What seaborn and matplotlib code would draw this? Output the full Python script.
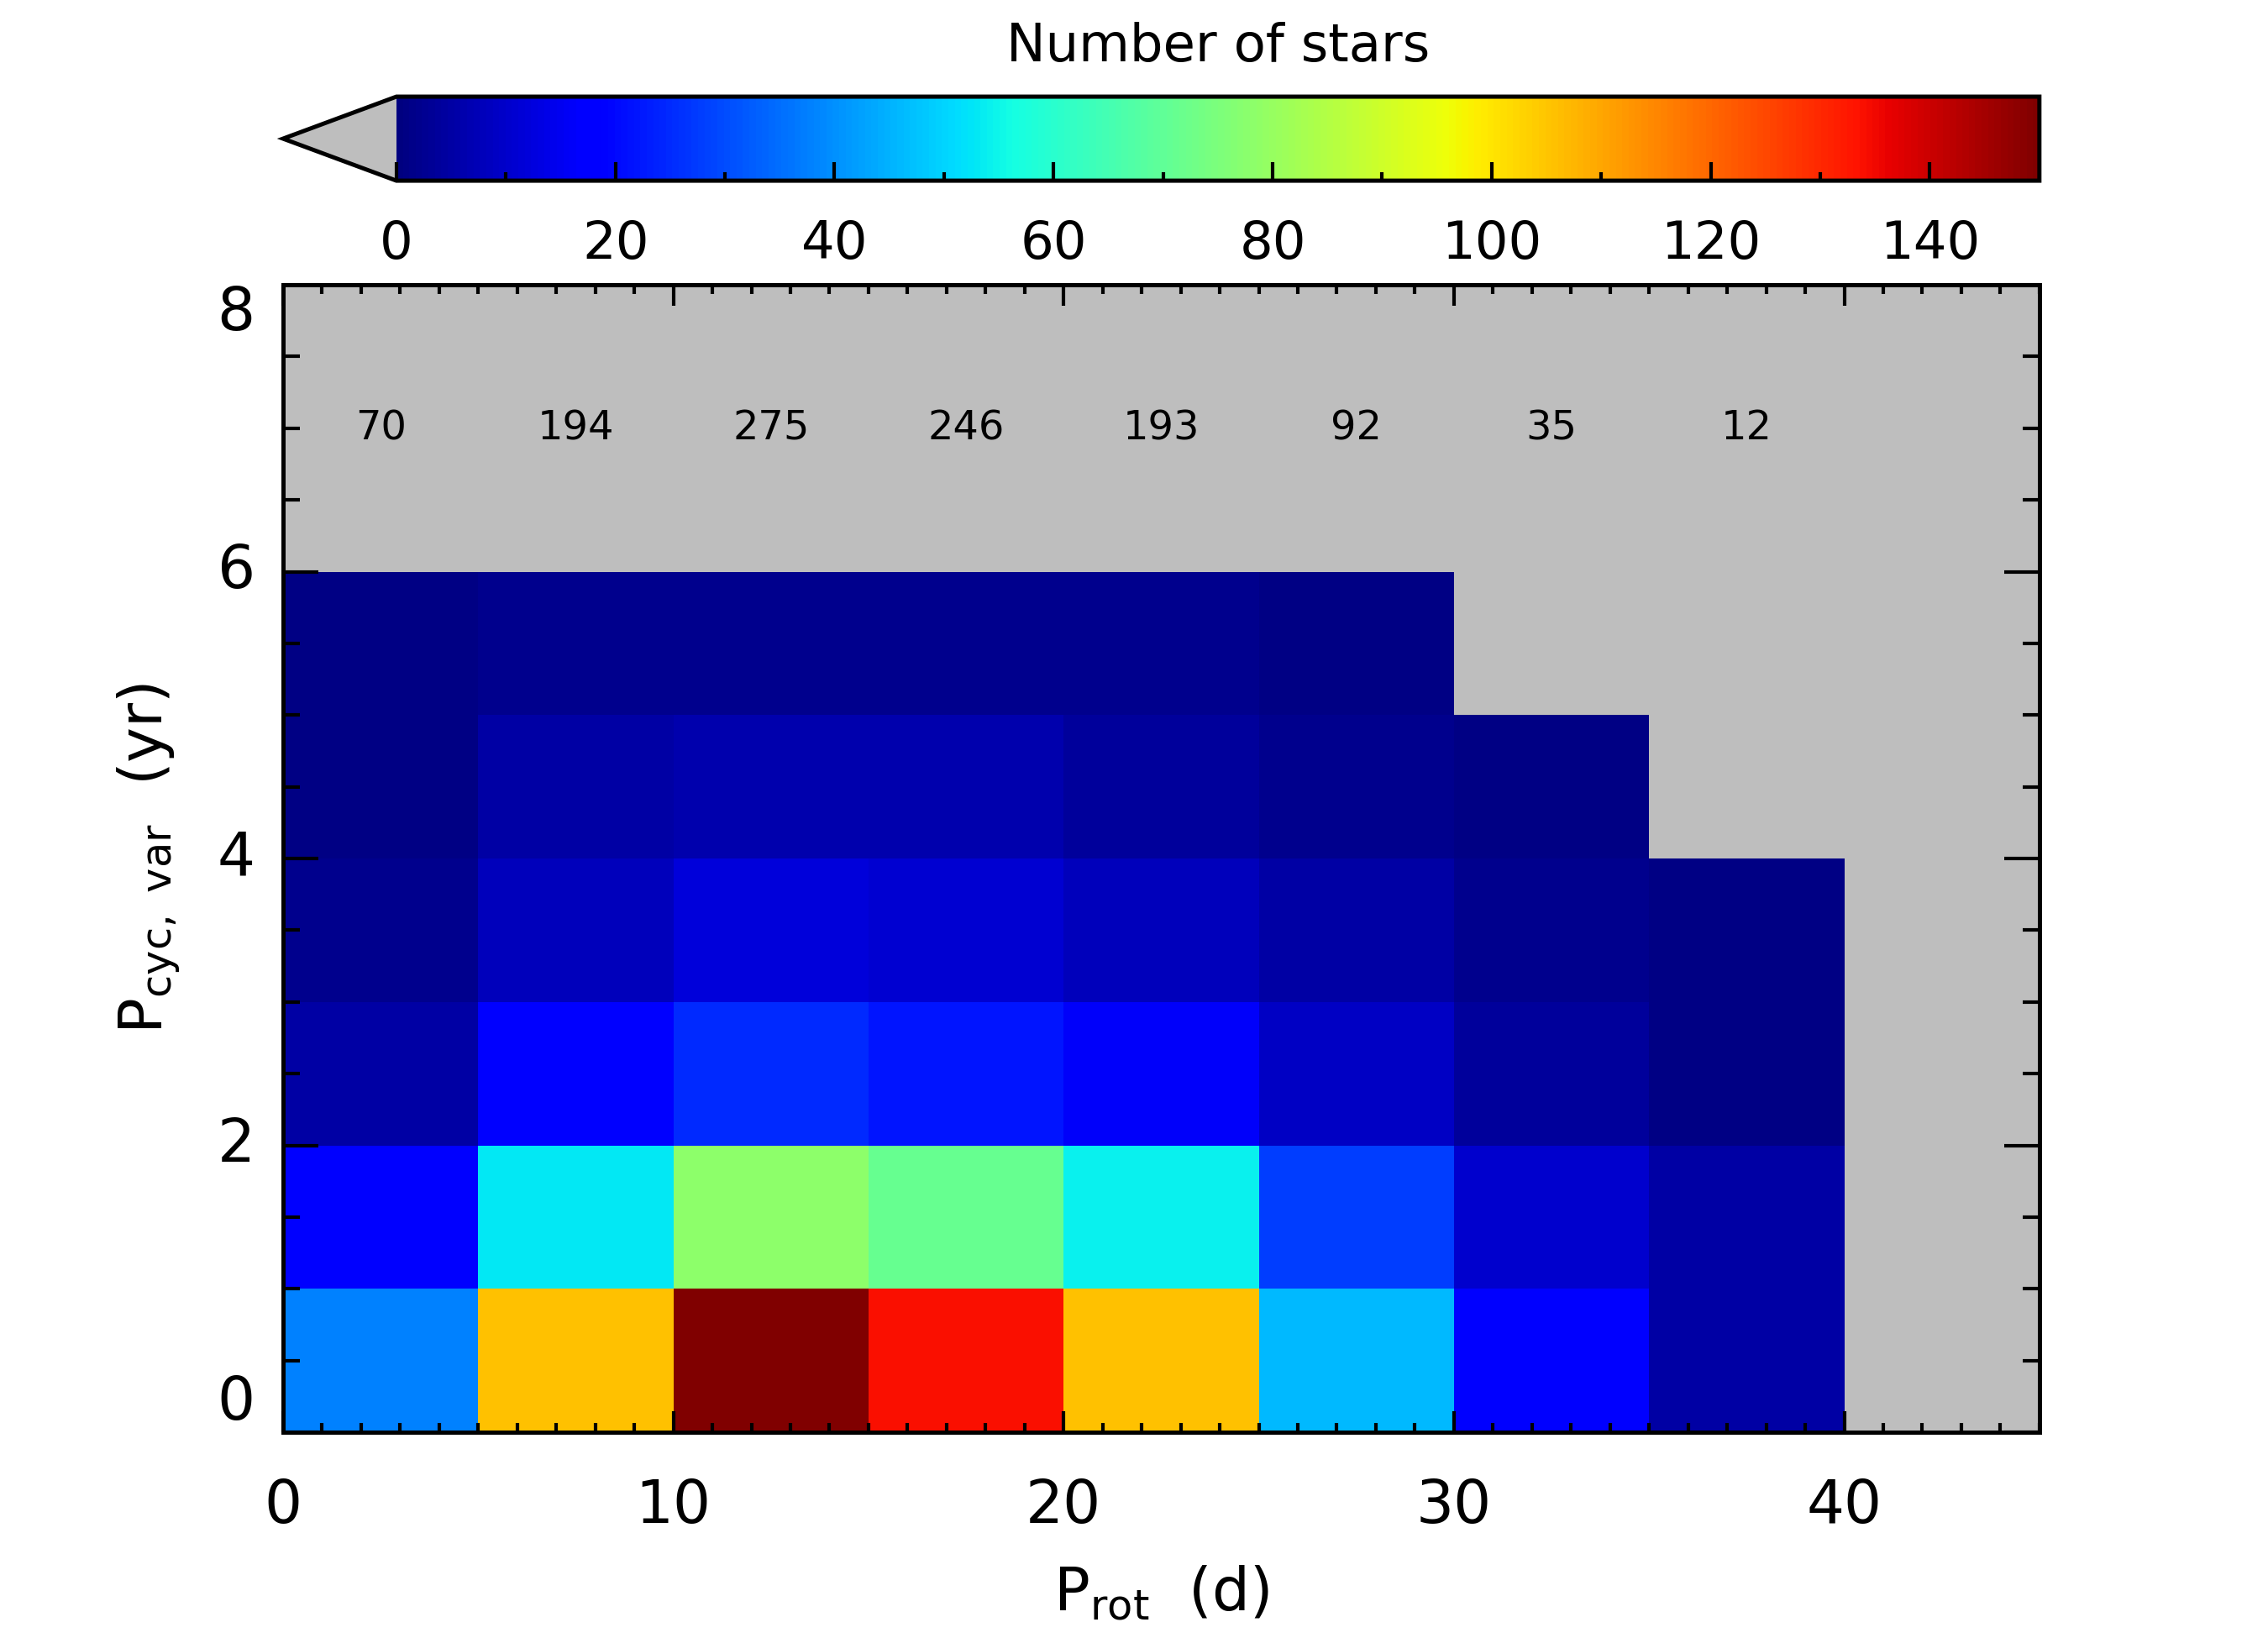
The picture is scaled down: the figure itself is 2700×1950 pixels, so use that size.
import numpy as np
import pandas as pd
import matplotlib
matplotlib.use("Agg")
import matplotlib.pyplot as plt
import seaborn as sns
from matplotlib.ticker import FixedLocator

# Przedziały: P_rot co 5 d, P_cyc co 1 rok (dolne krawędzie)
prot_bins = [0, 5, 10, 15, 20, 25, 30, 35, 40]
pcyc_bins = [0, 1, 2, 3, 4, 5, 6, 7]

# Liczba gwiazd w każdej komórce, wiersz = przedział P_cyc (od dołu)
n_pcyc_0 = [38, 106, 152, 134, 106, 46, 17, 5, 0]
n_pcyc_1 = [18, 53, 78, 71, 54, 28, 10, 5, 0]
n_pcyc_2 = [5, 17, 25, 22, 16, 9, 4, 1, 0]
n_pcyc_3 = [2, 8, 12, 11, 8, 5, 2, 1, 0]
n_pcyc_4 = [1, 5, 6, 6, 4, 2, 1, 0, 0]
n_pcyc_5 = [1, 2, 2, 2, 2, 1, 0, 0, 0]
n_pcyc_6 = [0, 0, 0, 0, 0, 0, 0, 0, 0]
n_pcyc_7 = [0, 0, 0, 0, 0, 0, 0, 0, 0]

# Sumy w kolumnach (napisy u góry)
col_totals = [70, 194, 275, 246, 193, 92, 35, 12]

counts = pd.DataFrame(
    [n_pcyc_0, n_pcyc_1, n_pcyc_2, n_pcyc_3, n_pcyc_4, n_pcyc_5, n_pcyc_6, n_pcyc_7],
    index=pcyc_bins, columns=prot_bins,
)

plt.rcParams['font.family'] = ['DejaVu Sans']
plt.rcParams['mathtext.default'] = 'regular'

gray = '#bebebe'
cmap = plt.get_cmap('jet').copy()
cmap.set_under(gray)

fig = plt.figure(figsize=(9, 6.5), dpi=300)
ax = fig.add_axes([0.1248, 0.1256, 0.7744, 0.7005])
cax = fig.add_axes([0.1248, 0.8897, 0.7744, 0.0513])
ax.set_facecolor(gray)

sns.heatmap(counts, mask=counts == 0, cmap=cmap, vmin=0, vmax=150, ax=ax, cbar_ax=cax,
            cbar_kws={'orientation': 'horizontal', 'extend': 'min', 'extendfrac': 0.069})

# Osie: komórka heatmapy = 5 d na x, 1 rok na y
ax.set_xlim(0, len(prot_bins))
ax.set_ylim(0, len(pcyc_bins))
for s in ax.spines.values():
    s.set_visible(True)
    s.set_linewidth(1.2)
    s.set_color('black')

xmaj = np.arange(0, len(prot_bins), 2)
ax.set_xticks(xmaj)
ax.set_xticklabels([prot_bins[i] for i in xmaj], rotation=0)
ax.set_xticks(np.arange(0, len(prot_bins) + 0.01, 0.2), minor=True)
ymaj = np.arange(0, len(pcyc_bins) + 1, 2)
ax.set_yticks(ymaj)
ax.set_yticklabels([str(v) for v in ymaj], rotation=0)
ax.set_yticks(np.arange(0, len(pcyc_bins) + 0.01, 0.5), minor=True)

ax.tick_params(which='both', direction='in', top=True, right=True, width=1.0, color='black')
ax.tick_params(axis='x', which='major', length=6, pad=13, labelsize=17)
ax.tick_params(axis='x', which='minor', length=2.7)
ax.tick_params(axis='y', which='major', length=10, pad=8, labelsize=17)
ax.tick_params(axis='y', which='minor', length=4.8)

# skrajne etykiety osi y przesunięte do środka (jak w IDL)
ylabs = ax.get_yticklabels()
ylabs[0].set_va('bottom')
ylabs[-1].set_va('top')

ax.set_xlabel('P$_{rot}$  (d)', fontsize=17, labelpad=8)
ax.set_ylabel('P$_{cyc,\\ var}$  (yr)', fontsize=17, labelpad=10)

for i, tot in enumerate(col_totals):
    ax.text(i + 0.5, 7, str(tot), ha='center', va='center', fontsize=11.5, color='black')

# Pasek kolorów
cb = ax.collections[0].colorbar
cb.outline.set_linewidth(1.2)
cb.outline.set_edgecolor('black')
cb.set_ticks(np.arange(0, 141, 20))
cb.ax.xaxis.set_minor_locator(FixedLocator(np.arange(10, 140, 20)))
cb.ax.tick_params(which='both', direction='in', bottom=True, top=False, width=1.0)
cb.ax.tick_params(which='major', length=5.2, pad=11, labelsize=15)
cb.ax.tick_params(which='minor', length=2.4)
cb.ax.xaxis.set_label_position('top')
cb.set_label('Number of stars', fontsize=15, labelpad=10)

fig.savefig('out.png', dpi=300)
